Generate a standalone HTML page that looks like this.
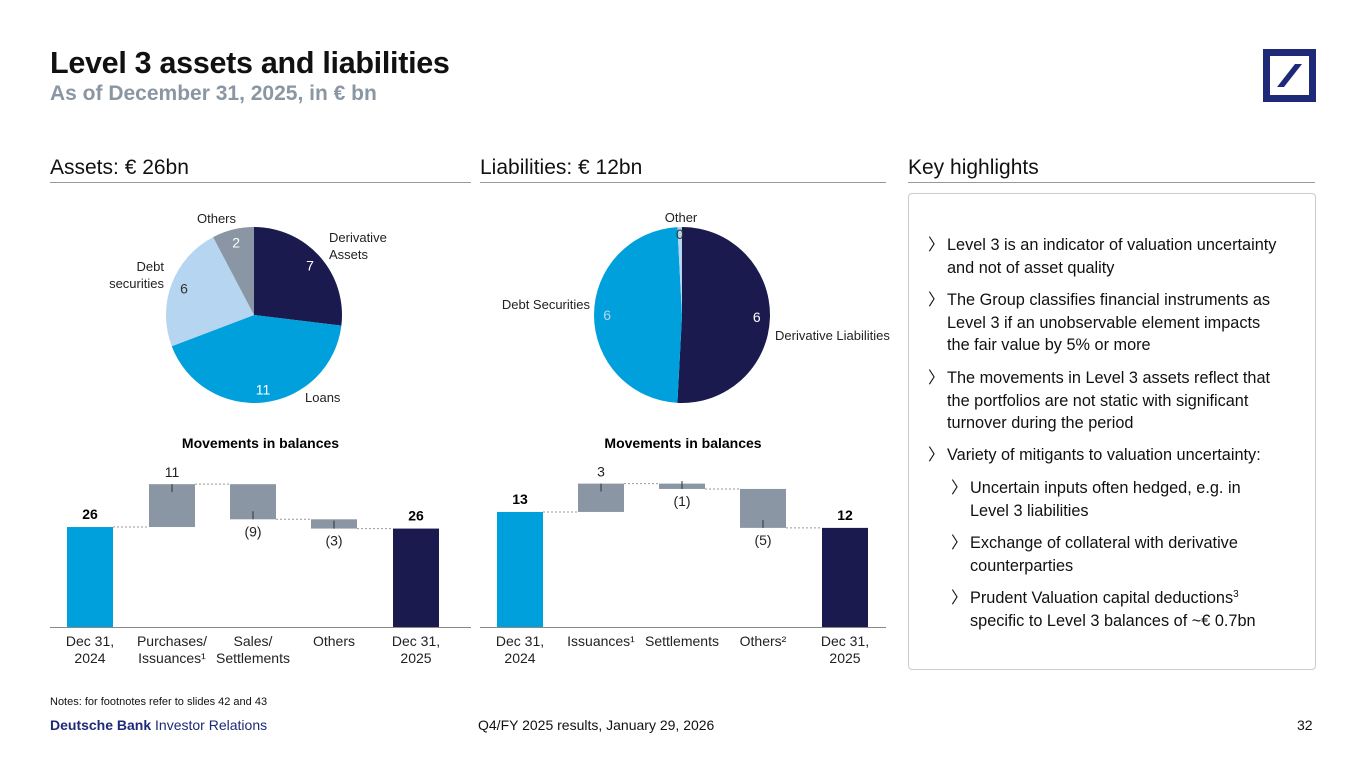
<!DOCTYPE html>
<html><head><meta charset="utf-8"><style>
body{margin:0;width:1365px;height:768px;background:#fff;font-family:"Liberation Sans",sans-serif;position:relative;overflow:hidden;color:#111}
.a{position:absolute;white-space:nowrap}
.hl{font-size:16.3px;line-height:22.5px;color:#111}
.hl sup{font-size:10px;line-height:0;vertical-align:6px}
.sec{font-size:21px;color:#111}
.rule{position:absolute;height:1px;background:#999}
</style></head><body>
<div class="a" style="left:50px;top:46px;font-size:30.5px;font-weight:bold;letter-spacing:-0.3px">Level 3 assets and liabilities</div>
<div class="a" style="left:50px;top:82px;font-size:21px;font-weight:bold;color:#8b96a3">As of December 31, 2025, in € bn</div>
<svg class="a" style="left:1263px;top:49px" width="53" height="53"><rect x="3.5" y="3.5" width="46" height="46" fill="none" stroke="#1e2a78" stroke-width="7"/><polygon points="32,15 39,15 21,38 14,38" fill="#1e2a78"/></svg>
<div class="a sec" style="left:50px;top:156px">Assets: € 26bn</div>
<div class="rule" style="left:50px;top:182px;width:421px"></div>
<div class="a sec" style="left:480px;top:156px">Liabilities: € 12bn</div>
<div class="rule" style="left:480px;top:182px;width:406px"></div>
<div class="a sec" style="left:908px;top:156px">Key highlights</div>
<div class="rule" style="left:908px;top:182px;width:407px"></div>
<div class="a" style="left:908px;top:193px;width:406px;height:475px;border:1px solid #ccc;border-radius:4px"></div>
<div class="a hl" style="left:928px;top:234px">
<div style="position:absolute;left:0;top:0">〉</div><div style="position:absolute;left:19px;top:0">Level 3 is an indicator of valuation uncertainty<br>and not of asset quality</div>
<div style="position:absolute;left:0;top:55px">〉</div><div style="position:absolute;left:19px;top:55px">The Group classifies financial instruments as<br>Level 3 if an unobservable element impacts<br>the fair value by 5% or more</div>
<div style="position:absolute;left:0;top:133px">〉</div><div style="position:absolute;left:19px;top:133px">The movements in Level 3 assets reflect that<br>the portfolios are not static with significant<br>turnover during the period</div>
<div style="position:absolute;left:0;top:210px">〉</div><div style="position:absolute;left:19px;top:210px">Variety of mitigants to valuation uncertainty:</div>
<div style="position:absolute;left:23px;top:243px">〉</div><div style="position:absolute;left:42px;top:243px">Uncertain inputs often hedged, e.g. in<br>Level 3 liabilities</div>
<div style="position:absolute;left:23px;top:298px">〉</div><div style="position:absolute;left:42px;top:298px">Exchange of collateral with derivative<br>counterparties</div>
<div style="position:absolute;left:23px;top:353px">〉</div><div style="position:absolute;left:42px;top:353px">Prudent Valuation capital deductions<sup>3</sup><br>specific to Level 3 balances of ~€ 0.7bn</div>
</div>
<svg id="chart" class="a" style="left:0;top:0" width="900" height="700"></svg>
<div class="a" style="left:50px;top:696px;font-size:11px">Notes: for footnotes refer to slides 42 and 43</div>
<div class="a" style="left:50px;top:717px;font-size:14px;color:#1e2a78"><b>Deutsche Bank</b> Investor Relations</div>
<div class="a" style="left:478px;top:717px;font-size:14px">Q4/FY 2025 results, January 29, 2026</div>
<div class="a" style="left:1297px;top:717px;font-size:14px">32</div>
<script>
const assetPieLabels=["Derivative Assets","Loans","Debt securities","Others"];
const assetPieValues=[7,11,6,2];
const liabPieLabels=["Derivative Liabilities","Debt Securities","Other"];
const liabPieValues=[6.1,5.8,0.1];
const liabPiePrinted=["6","6","0"];
const assetWfCats=["Dec 31,|2024","Purchases/|Issuances¹","Sales/|Settlements","Others","Dec 31,|2025"];
const assetWfStart=25.9;
const assetWfChanges=[11.1,-9.1,-2.4];
const assetWfPrinted=["26","11","(9)","(3)","26"];
const liabWfCats=["Dec 31,|2024","Issuances¹","Settlements","Others²","Dec 31,|2025"];
const liabWfStart=13.0;
const liabWfChanges=[3.2,-0.6,-4.4];
const liabWfPrinted=["13","3","(1)","(5)","12"];
const NS="http://www.w3.org/2000/svg";
const svg=document.getElementById('chart');
function mk(t,at,txt){const e=document.createElementNS(NS,t);for(const k in at)e.setAttribute(k,at[k]);if(txt!==undefined)e.textContent=txt;svg.appendChild(e);return e;}
function pie(cx,cy,r,vals,cols,printed,txtcols,name){
  const tot=vals.reduce((a,b)=>a+b,0);let a0=0;
  vals.forEach((v,i)=>{const a1=a0+v/tot*2*Math.PI;
    const p=(a)=>[cx+r*Math.sin(a),cy-r*Math.cos(a)];
    const [x0,y0]=p(a0),[x1,y1]=p(a1);
    const e=mk('path',{d:`M${cx},${cy}L${x0},${y0}A${r},${r} 0 ${a1-a0>Math.PI?1:0} 1 ${x1},${y1}Z`,fill:cols[i]});
    
    
    const am=(a0+a1)/2,lr=v/tot<0.02?r*0.92:r*0.85;
    const t=mk('text',{x:cx+lr*Math.sin(am),y:cy-lr*Math.cos(am)+5,'text-anchor':'middle','font-size':14,fill:txtcols[i]},printed[i]);
    
    
    a0=a1;});
}
pie(254,315,88,assetPieValues,["#1a1a4e","#00a0dc","#b5d5f0","#8a96a3"],assetPieValues.map(String),["#fff","#fff","#333","#fff"],'assets-pie');
pie(682,315,88,liabPieValues,["#1a1a4e","#00a0dc","#b5d5f0"],liabPiePrinted,["#fff","#b5d5f0","#333"],'liab-pie');
function lbl(x,y,s,anchor){s.split('|').forEach((l,j)=>{const t=mk('text',{x:x,y:y+j*17,'text-anchor':anchor||'start','font-size':13,fill:'#222'},l);});}
lbl(329,242,"Derivative|Assets");lbl(305,402,assetPieLabels[1]);lbl(164,271,"Debt|securities","end");lbl(236,223,assetPieLabels[3],"end");
lbl(775,340,liabPieLabels[0]);lbl(590,309,liabPieLabels[1],"end");lbl(681,222,liabPieLabels[2],"middle");
function wf(x0,x1,centers,scale,start,changes,printed,cats,name){
  const base=627,y=v=>base-v*scale,w=46;
  const t=mk('text',{x:(x0+x1)/2,y:448,'text-anchor':'middle','font-size':14,'font-weight':'bold'},'Movements in balances');
  
  const r0=mk('rect',{x:centers[0]-w/2,y:y(start),width:w,height:start*scale,fill:'#00a0dc'});
  
  let prev=start;
  changes.forEach((c,i)=>{const nxt=prev+c,top=Math.max(prev,nxt),bot=Math.min(prev,nxt);
    const r=mk('rect',{x:centers[i+1]-w/2,y:y(top),width:w,height:(top-bot)*scale,fill:'#8a96a3'});
    
    mk('line',{x1:centers[i]+w/2,x2:centers[i+1]-w/2,y1:y(prev),y2:y(prev),stroke:'#999','stroke-dasharray':'2,2'});
    mk('line',{x1:centers[i+1],x2:centers[i+1],y1:c>0?y(top):y(bot)-8,y2:c>0?y(top)+8:y(bot),stroke:'#333'});
    const tl=mk('text',{x:centers[i+1],y:c>0?y(top)-7:y(bot)+17,'text-anchor':'middle','font-size':14,fill:'#222'},printed[i+1]);
    
    prev=nxt;});
  mk('line',{x1:centers[3]+w/2,x2:centers[4]-w/2,y1:y(prev),y2:y(prev),stroke:'#999','stroke-dasharray':'2,2'});
  const r4=mk('rect',{x:centers[4]-w/2,y:y(prev),width:w,height:prev*scale,fill:'#1a1a4e'});
  
  [[0,start],[4,prev]].forEach(([k,v])=>{const tt=mk('text',{x:centers[k],y:y(v)-8,'text-anchor':'middle','font-size':14,'font-weight':'bold'},printed[k]);
    });
  const ax=mk('line',{x1:x0,x2:x1,y1:base+0.5,y2:base+0.5,stroke:'#888'});
  
  cats.forEach((c,i)=>c.split('|').forEach((l,j)=>{const ct=mk('text',{x:centers[i],y:646+j*17,'text-anchor':'middle','font-size':14,fill:'#222'},l);
    }));
}
wf(50,471,[90,172,253,334,416],3.86,assetWfStart,assetWfChanges,assetWfPrinted,assetWfCats,'assets-waterfall');
wf(480,886,[520,601,682,763,845],8.85,liabWfStart,liabWfChanges,liabWfPrinted,liabWfCats,'liab-waterfall');
</script>
</body></html>
